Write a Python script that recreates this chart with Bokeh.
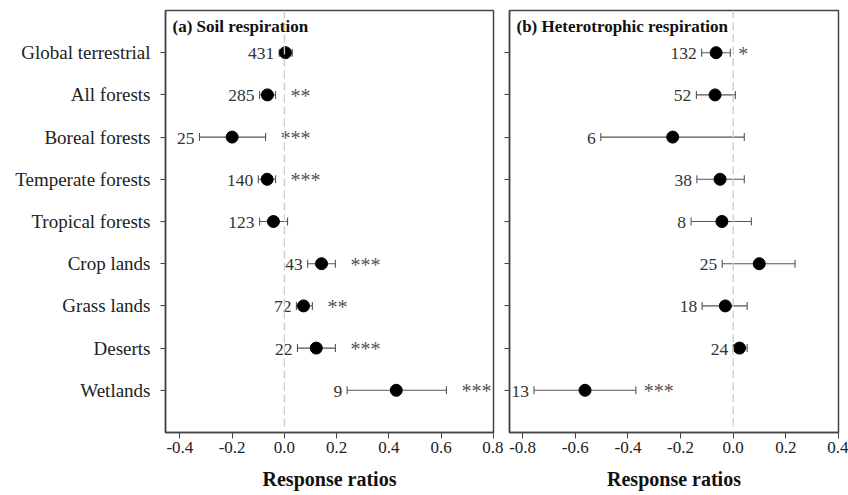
import numpy as np
from bokeh.plotting import figure
from bokeh.models import ColumnDataSource, Range1d, Span, Whisker, FixedTicker, TeeHead
from bokeh.layouts import row
from bokeh.core.properties import value
from bokeh.embed import file_html
from bokeh.resources import INLINE

categories = ["Global terrestrial", "All forests", "Boreal forests", "Temperate forests",
              "Tropical forests", "Crop lands", "Grass lands", "Deserts", "Wetlands"]

# (a) Soil respiration
rs_mean = [0.004, -0.065, -0.200, -0.066, -0.042, 0.142, 0.073, 0.122, 0.428]
rs_lower = [-0.020, -0.095, -0.325, -0.100, -0.095, 0.089, 0.046, 0.050, 0.240]
rs_upper = [0.030, -0.034, -0.072, -0.034, 0.012, 0.195, 0.107, 0.195, 0.620]
rs_n = [431, 285, 25, 140, 123, 43, 72, 22, 9]
rs_sig = ["", "**", "***", "***", "", "***", "**", "***", "***"]

# (b) Heterotrophic respiration
rh_mean = [-0.065, -0.069, -0.230, -0.050, -0.043, 0.099, -0.030, 0.024, -0.563]
rh_lower = [-0.120, -0.140, -0.503, -0.138, -0.160, -0.042, -0.118, 0.000, -0.757]
rh_upper = [-0.011, 0.008, 0.042, 0.042, 0.069, 0.235, 0.053, 0.053, -0.370]
rh_n = [132, 52, 6, 38, 8, 25, 18, 24, 13]
rh_sig = ["*", "", "", "", "", "", "", "", "***"]

rs_ticks = [-0.4, -0.2, 0.0, 0.2, 0.4, 0.6, 0.8]
rh_ticks = [-0.8, -0.6, -0.4, -0.2, 0.0, 0.2, 0.4]

FONT = "Liberation Serif"


def panel(title, mean, lower, upper, n, sig, ticks, xr, show_labels, star_gap,
          min_left, min_right, frame_w):
    ypos = list(range(len(categories)))
    src = ColumnDataSource(dict(y=ypos, mean=mean, lower=lower, upper=upper,
                                n=[str(v) for v in n], sig=sig))
    p = figure(frame_width=frame_w, frame_height=422,
               x_range=Range1d(*xr), y_range=Range1d(len(categories), -1),
               output_backend="svg", toolbar_location=None,
               min_border_left=min_left, min_border_right=min_right,
               min_border_top=10, min_border_bottom=63)
    p.grid.visible = False
    p.background_fill_color = "white"
    p.border_fill_color = "white"
    p.outline_line_color = "#444444"
    p.outline_line_width = 1.5

    p.add_layout(Span(location=0, dimension="height", line_color="#cccccc",
                      line_dash="8 4", line_width=1.3))

    w = Whisker(source=src, base="y", lower="lower", upper="upper", dimension="width",
                line_color="#555555", line_width=1.1,
                upper_head=TeeHead(size=8, line_color="#555555", line_width=1.1),
                lower_head=TeeHead(size=8, line_color="#555555", line_width=1.1))
    p.add_layout(w)
    p.scatter("mean", "y", source=src, size=12, color="black")

    p.text("lower", "y", text="n", source=src, text_align="right", text_baseline="middle",
           x_offset=-5, y_offset=1, text_font=value(FONT), text_font_size="17.5px",
           text_color="#333333")
    p.text("upper", "y", text="sig", source=src, text_align="left", text_baseline="middle",
           x_offset=star_gap, y_offset=1, text_font=value(FONT), text_font_size="20px",
           text_color="#555555")

    p.text(x=[xr[0]], y=[-1], text=[title], x_offset=7, y_offset=16,
           text_align="left", text_baseline="middle", text_font=value(FONT),
           text_font_size="17px", text_font_style="bold", text_color="#111111")

    p.xaxis.ticker = FixedTicker(ticks=ticks)
    p.xaxis.major_label_overrides = {t: f"{t:.1f}" for t in ticks}
    p.xaxis.axis_label = "Response ratios"
    p.xaxis.axis_label_text_font = FONT
    p.xaxis.axis_label_text_font_size = "20px"
    p.xaxis.axis_label_text_font_style = "bold"
    p.xaxis.axis_label_text_color = "#111111"
    p.xaxis.axis_label_standoff = 12
    p.xaxis.major_label_text_font = FONT
    p.xaxis.major_label_text_font_size = "17px"
    p.xaxis.major_label_text_color = "#222222"
    p.xaxis.major_label_standoff = 3
    p.xaxis.major_tick_out = 6
    p.xaxis.major_tick_in = 0
    p.xaxis.minor_tick_line_color = None
    p.xaxis.axis_line_color = "#444444"
    p.xaxis.axis_line_width = 1.5
    p.xaxis.major_tick_line_color = "#444444"

    p.yaxis.ticker = FixedTicker(ticks=ypos)
    if show_labels:
        p.yaxis.major_label_overrides = {i: c for i, c in enumerate(categories)}
        p.yaxis.major_label_text_font = FONT
        p.yaxis.major_label_text_font_size = "19px"
        p.yaxis.major_label_text_color = "#222222"
        p.yaxis.major_label_standoff = 10
    else:
        p.yaxis.major_label_overrides = {i: "" for i in ypos}
        p.yaxis.major_label_text_font_size = "0px"
        p.yaxis.major_label_standoff = 0
    p.yaxis.major_tick_out = 5
    p.yaxis.major_tick_in = 0
    p.yaxis.minor_tick_line_color = None
    p.yaxis.axis_line_color = "#444444"
    p.yaxis.axis_line_width = 1.5
    p.yaxis.major_tick_line_color = "#444444"
    return p


p1 = panel("(a) Soil respiration", rs_mean, rs_lower, rs_upper, rs_n, rs_sig,
           rs_ticks, (-0.455, 0.8), True, 15, 165, 10, 328)
p2 = panel("(b) Heterotrophic respiration", rh_mean, rh_lower, rh_upper, rh_n, rh_sig,
           rh_ticks, (-0.85, 0.4), False, 8, 6, 10, 329)

layout = row(p1, p2)
open("out.html", "w").write(file_html(layout, INLINE))
